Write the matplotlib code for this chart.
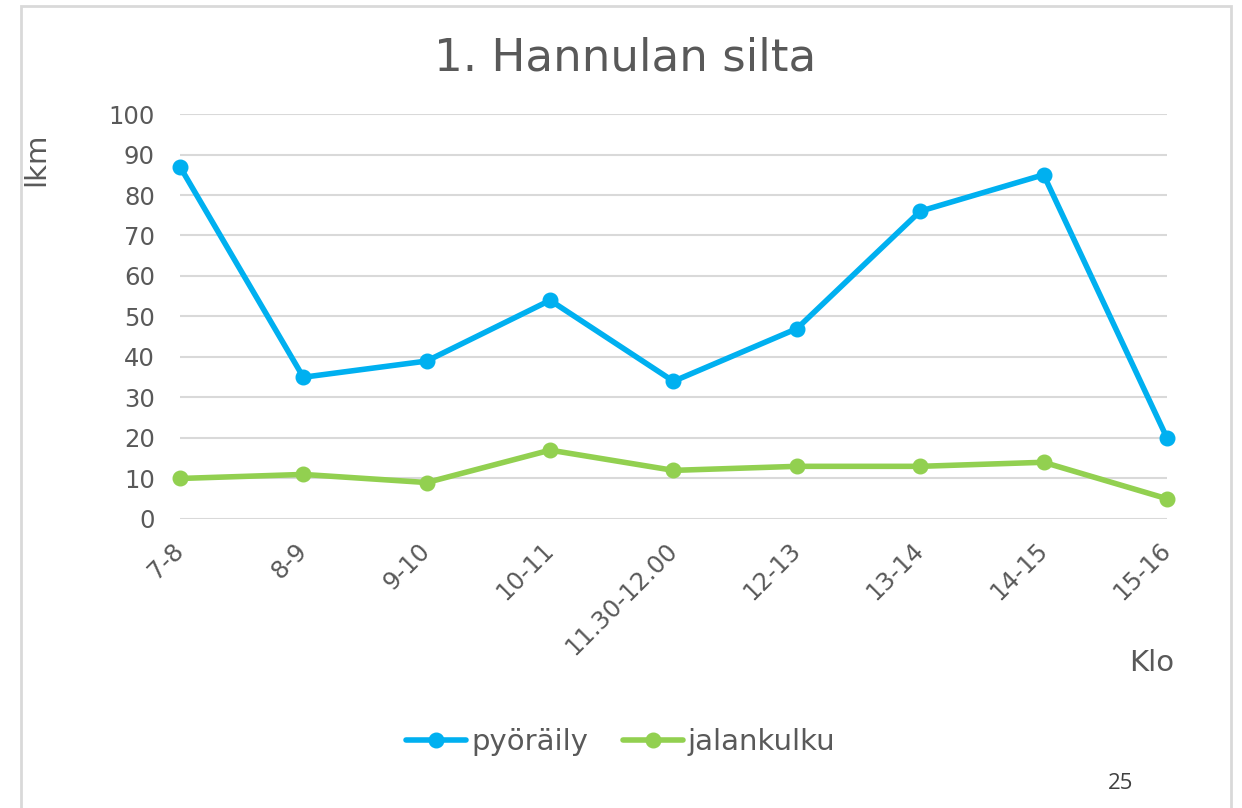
import matplotlib.pyplot as plt
from matplotlib.patches import Rectangle

plt.rcParams["font.family"] = ["DejaVu Sans"]

# data
hours = ["7-8", "8-9", "9-10", "10-11", "11.30-12.00", "12-13", "13-14", "14-15", "15-16"]
cycling = [87, 35, 39, 54, 34, 47, 76, 85, 20]
walking = [10, 11, 9, 17, 12, 13, 13, 14, 5]
y_ticks = list(range(0, 101, 10))

blue = "#00B0F0"
green = "#92D050"
text_grey = "#595959"

fig = plt.figure(figsize=(12.42, 8.08), dpi=100)
ax = fig.add_axes([0.1449, 0.3577, 0.7947, 0.5012])

x = list(range(len(hours)))
ax.plot(x, cycling, color=blue, lw=4, marker="o", markersize=10.5,
        solid_capstyle="round", label="pyöräily", clip_on=False, zorder=3)
ax.plot(x, walking, color=green, lw=4, marker="o", markersize=10.5,
        solid_capstyle="round", label="jalankulku", clip_on=False, zorder=3)

ax.set_xlim(0, len(hours) - 1)
ax.set_ylim(0, 100)
ax.set_yticks(y_ticks)
ax.set_xticks(x)
ax.set_xticklabels(hours, rotation=45, ha="right", va="center",
                   rotation_mode="anchor")
ax.tick_params(axis="both", length=0, labelsize=17.5, labelcolor=text_grey)
ax.tick_params(axis="x", pad=20)
ax.tick_params(axis="y", pad=18)
ax.grid(axis="y", color="#D9D9D9", lw=1.5)
ax.set_axisbelow(True)
for s in ax.spines.values():
    s.set_visible(False)

fig.text(0.503, 0.928, "1. Hannulan silta", ha="center", va="center",
         fontsize=32.5, color=text_grey)
fig.text(0.029, 0.803, "lkm", ha="center", va="center", rotation=90,
         fontsize=21, color=text_grey)
fig.text(0.9275, 0.180, "Klo", ha="center", va="center",
         fontsize=21, color=text_grey)
fig.text(0.902, 0.030, "25", ha="center", va="center",
         fontsize=16, color="#404040", family="Open Sans")

fig.legend(loc="center", bbox_to_anchor=(0.5, 0.082), ncol=2, frameon=False,
           fontsize=21, labelcolor=text_grey, handlelength=2.05,
           handletextpad=0.17, columnspacing=1.2)

# light frame around the chart area
fig.add_artist(Rectangle((0.017, -0.05), 0.974, 1.043,
                         transform=fig.transFigure, fill=False,
                         edgecolor="#D9D9D9", lw=2))

fig.savefig("out.png", dpi=100)
